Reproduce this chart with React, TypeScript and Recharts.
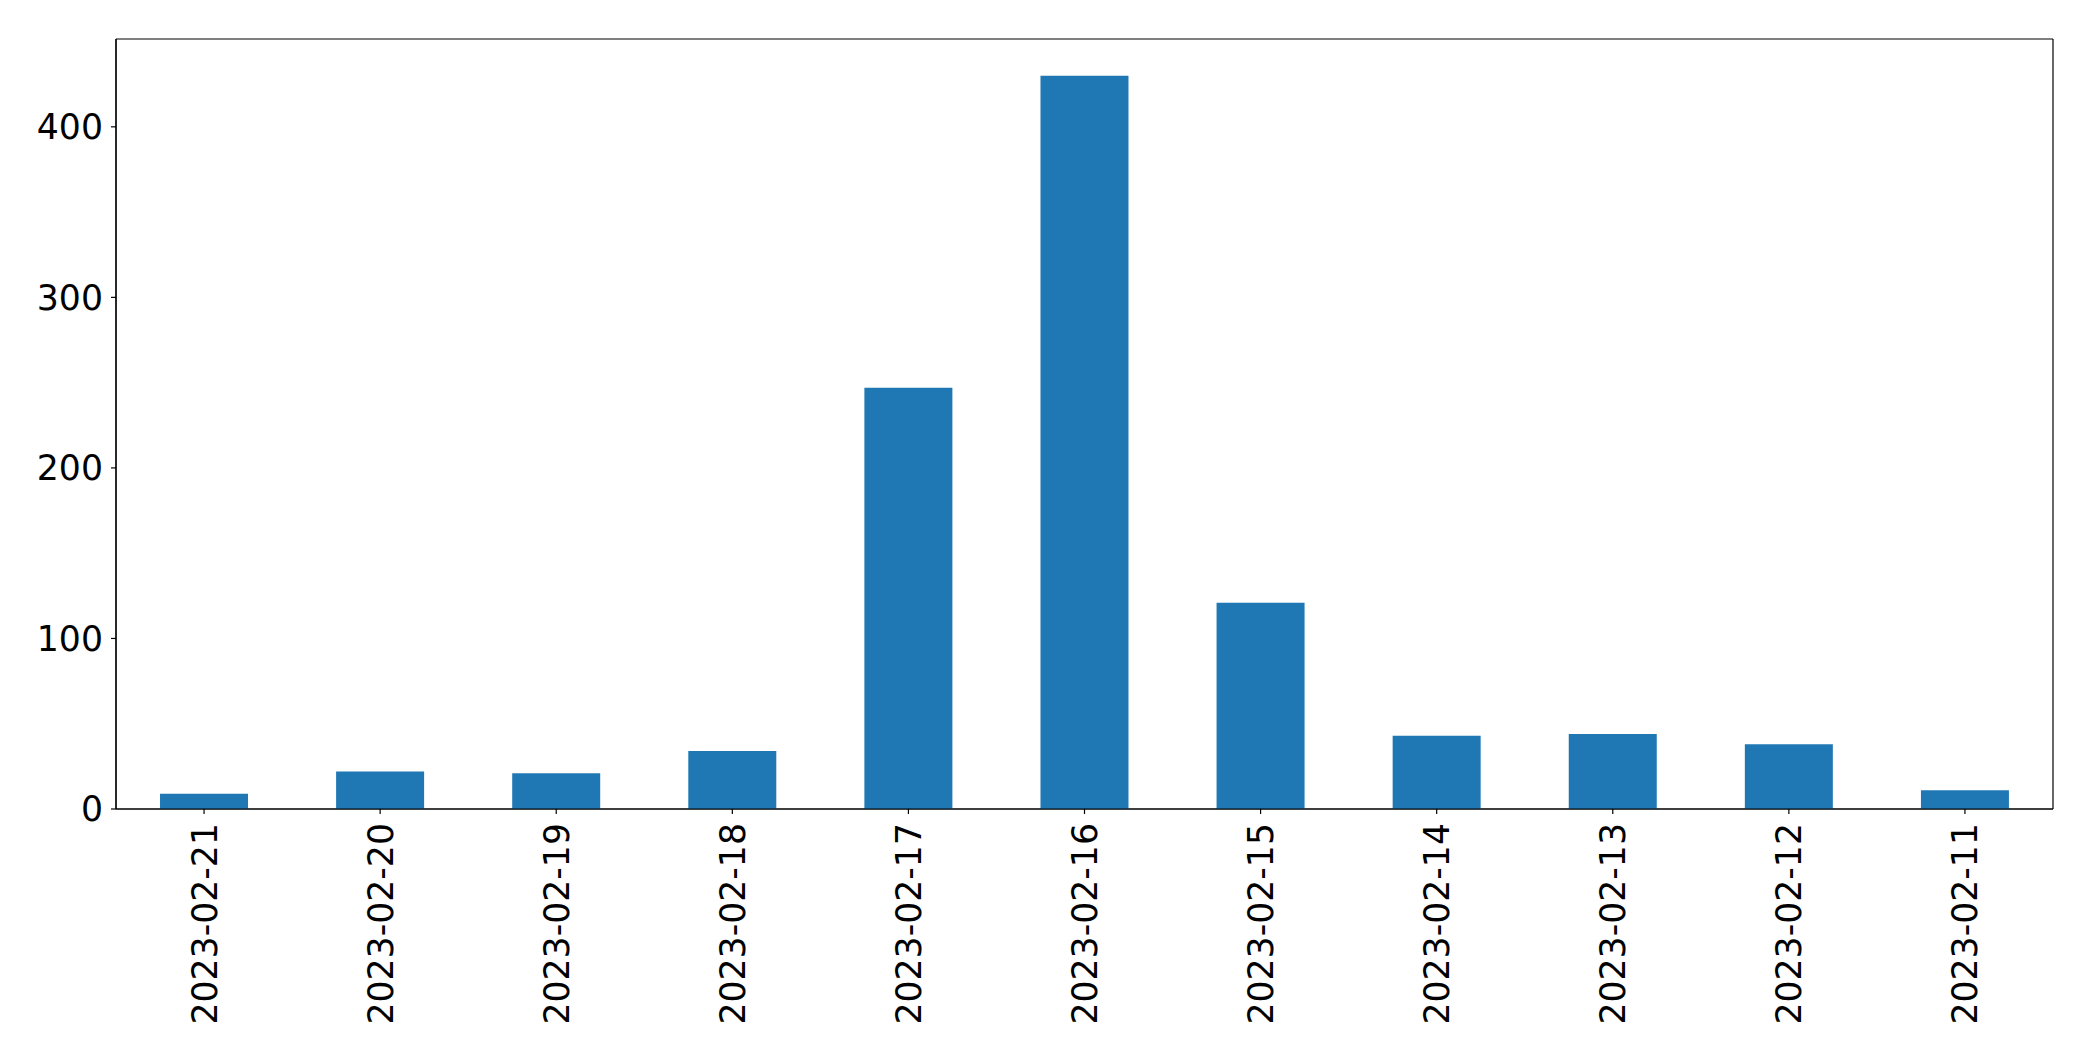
import React from "react";
import { BarChart, Bar, XAxis, YAxis, CartesianGrid } from "recharts";

const dates = [
  "2023-02-21",
  "2023-02-20",
  "2023-02-19",
  "2023-02-18",
  "2023-02-17",
  "2023-02-16",
  "2023-02-15",
  "2023-02-14",
  "2023-02-13",
  "2023-02-12",
  "2023-02-11",
];
const counts = [9, 22, 21, 34, 247, 430, 121, 43, 44, 38, 11];
const yTicks = [0, 100, 200, 300, 400];

const data = dates.map((d, i) => ({ date: d, count: counts[i] }));

const FONT = "DejaVu Sans, sans-serif";
const FS = 34.7;

const RotatedTick = (props: any) => {
  const { x, y, payload } = props;
  return (
    <text
      x={x}
      y={y}
      transform={`rotate(-90, ${x}, ${y})`}
      textAnchor="end"
      dy="0.36em"
      fontFamily={FONT}
      fontSize={FS}
      fill="#000"
    >
      {payload.value}
    </text>
  );
};

const frameH = (p: any) => [p.offset.top, p.offset.top + p.offset.height];
const frameV = (p: any) => [p.offset.left, p.offset.left + p.offset.width];

export default function App() {
  return (
    <div style={{ position: "absolute", left: 0, top: 0, background: "#fff" }}>
      <BarChart
        width={2093}
        height={1061}
        data={data}
        margin={{ top: 39, right: 40, left: 0, bottom: 0 }}
        barCategoryGap="25%"
      >
        <CartesianGrid
          stroke="#000"
          strokeWidth={1.2}
          horizontalCoordinatesGenerator={frameH}
          verticalCoordinatesGenerator={frameV}
        />
        <XAxis
          dataKey="date"
          height={252}
          interval={0}
          tickSize={5}
          tickMargin={9}
          tick={<RotatedTick />}
          axisLine={{ stroke: "#000", strokeWidth: 1.2 }}
          tickLine={{ stroke: "#000", strokeWidth: 1.2 }}
        />
        <YAxis
          type="number"
          domain={[0, 451.5]}
          ticks={yTicks}
          allowDataOverflow
          width={116}
          tickSize={5}
          tickMargin={8}
          tick={{ fontFamily: FONT, fontSize: FS, fill: "#000" }}
          axisLine={{ stroke: "#000", strokeWidth: 1.2 }}
          tickLine={{ stroke: "#000", strokeWidth: 1.2 }}
        />
        <Bar dataKey="count" fill="#1f77b4" isAnimationActive={false} />
      </BarChart>
    </div>
  );
}
